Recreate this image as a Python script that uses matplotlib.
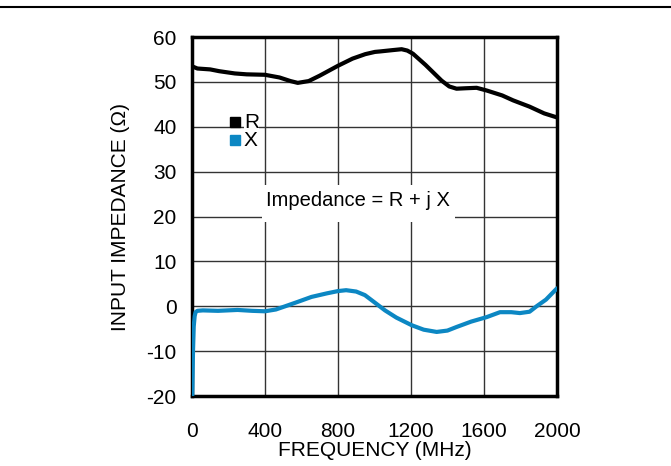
import matplotlib
matplotlib.use("Agg")
from matplotlib import pyplot as plt
from matplotlib.patches import Rectangle

plt.rcParams['font.family'] = ['Liberation Sans', 'DejaVu Sans']
plt.rcParams['axes.unicode_minus'] = False

# R curve (ohms) vs frequency (MHz)
r_freq = [0, 30, 100, 150, 235, 300, 400, 480, 540, 580, 640, 700, 800, 880,
          950, 1003, 1030, 1100, 1149, 1180, 1211, 1280, 1368, 1410, 1450,
          1500, 1560, 1615, 1700, 1760, 1850, 1930, 2000]
r_vals = [53.5, 53.0, 52.8, 52.4, 51.9, 51.7, 51.6, 51.0, 50.2, 49.8, 50.2,
          51.4, 53.6, 55.2, 56.2, 56.7, 56.8, 57.1, 57.3, 57.0, 56.3, 53.8,
          50.3, 49.0, 48.5, 48.6, 48.7, 48.1, 47.0, 45.9, 44.5, 43.0, 42.1]

# X curve (ohms) vs frequency (MHz)
x_freq = [2, 6, 10, 15, 20, 30, 60, 143, 250, 330, 400, 460, 510, 580, 655,
          740, 800, 845, 900, 948, 1000, 1058, 1120, 1204, 1270, 1341, 1400,
          1450, 1530, 1615, 1688, 1750, 1797, 1850, 1888, 1940, 2000]
x_vals = [-20, -10, -4.5, -2.2, -1.3, -1.0, -0.9, -1.0, -0.8, -1.0, -1.1,
          -0.7, 0.0, 1.0, 2.1, 2.9, 3.4, 3.6, 3.3, 2.5, 0.9, -0.9, -2.5,
          -4.2, -5.2, -5.7, -5.4, -4.6, -3.4, -2.4, -1.3, -1.3, -1.5, -1.2,
          0.0, 1.5, 4.0]

x_ticks = [0, 400, 800, 1200, 1600, 2000]
y_ticks = [-20, -10, 0, 10, 20, 30, 40, 50, 60]
blue = '#0C87C3'

fig = plt.figure(figsize=(6.71, 4.66), dpi=100)
ax = fig.add_axes([0.286, 0.150, 0.544, 0.7704])

ax.plot(r_freq, r_vals, color='black', lw=3, solid_capstyle='round', zorder=3)
ax.plot(x_freq, x_vals, color=blue, lw=3, solid_capstyle='round', zorder=3)

ax.set_xlim(0, 2000)
ax.set_ylim(-20, 60)
ax.set_xticks(x_ticks)
ax.set_yticks(y_ticks)
ax.tick_params(axis='x', length=0, labelsize=15, pad=19)
ax.tick_params(axis='y', length=0, labelsize=15, pad=11)
ax.grid(True, color='#333333', lw=1)
for s in ax.spines.values():
    s.set_linewidth(2.5)
ax.set_xlabel('FREQUENCY (MHz)', fontsize=15, labelpad=0)
ax.set_ylabel('INPUT IMPEDANCE (Ω)', fontsize=15, labelpad=12)

# legend squares
ax.plot([235], [41], marker='s', ms=7.2, color='black', ls='none', zorder=4)
ax.plot([235], [37], marker='s', ms=7.2, color=blue, ls='none', zorder=4)
ax.text(285, 41, 'R', fontsize=15, va='center', ha='left', zorder=4,
        bbox=dict(facecolor='white', edgecolor='none', pad=0))
ax.text(285, 37, 'X', fontsize=15, va='center', ha='left', zorder=4,
        bbox=dict(facecolor='white', edgecolor='none', pad=0))

# annotation with white box hiding the grid
ax.add_patch(Rectangle((384, 18.7), 1057, 8.3, facecolor='white',
                       edgecolor='none', zorder=2))
ax.text(912, 23.5, 'Impedance = R + j X', fontsize=14.5, ha='center',
        va='center', zorder=4)

fig.add_artist(plt.Line2D([0, 1], [0.984, 0.984], color='black', lw=1.5,
                          transform=fig.transFigure))

fig.savefig('out.png', dpi=100)
